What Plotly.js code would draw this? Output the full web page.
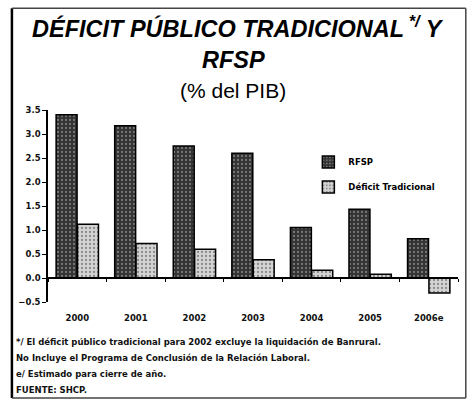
<!DOCTYPE html>
<html><head><meta charset="utf-8">
<script src="https://cdn.plot.ly/plotly-3.0.1.min.js"></script>
<style>body{margin:0;background:#fff}#chart{width:468px;height:400px}</style>
</head><body><div id="chart"></div>
<script>
const years = ["2000","2001","2002","2003","2004","2005","2006e"];
const rfsp = [3.40, 3.17, 2.75, 2.60, 1.05, 1.43, 0.82];
const deficitTrad = [1.12, 0.72, 0.60, 0.38, 0.16, 0.08, -0.31];
const yTicks = [-0.5, 0, 0.5, 1, 1.5, 2, 2.5, 3, 3.5];
const titleLines = ['<b><i>DÉFICIT PÚBLICO TRADICIONAL<sup> */</sup> Y</i></b>', '<b><i>RFSP</i></b>', '(% del PIB)'];
const notes = [
  "*/ El déficit público tradicional para 2002 excluye la liquidación de Banrural.",
  "No Incluye el Programa de Conclusión de la Relación Laboral.",
  "e/ Estimado para cierre de año.",
  "FUENTE: SHCP."
];

const traces = [
  {type:'bar', name:'RFSP', x:years, y:rfsp, legendgroup:'a',
   marker:{color:'#333333', line:{color:'#000', width:1.5},
           pattern:{shape:'.', bgcolor:'#333333', fgcolor:'#777777', size:4, solidity:0.25, fillmode:'replace'}}},
  {type:'bar', name:'Déficit Tradicional', x:years, y:deficitTrad, legendgroup:'b',
   marker:{color:'#cfcfcf', line:{color:'#000', width:1.5},
           pattern:{shape:'.', bgcolor:'#d4d4d4', fgcolor:'#8a8a8a', size:4, solidity:0.25, fillmode:'replace'}}}
];

const sans = 'DejaVu Sans, Verdana, sans-serif';
const annotations = notes.map((t,i)=>({
  text:t, xref:'paper', yref:'paper', x:-0.082, y:-0.208 - i*0.0835,
  xanchor:'left', yanchor:'middle', showarrow:false,
  font:{family:sans, size:8.5, color:'#111', weight:'bold'}
}));
const titleY = [1.432, 1.262, 1.104];
const titleX = [0.463, 0.452, 0.452];
const titleSize = [23.5, 23.5, 21];
titleLines.forEach((t,i)=>annotations.push({
  text:t, xref:'paper', yref:'paper', x:titleX[i], y:titleY[i], xanchor:'center', yanchor:'middle',
  showarrow:false, font:{family:'Liberation Sans, Arial, sans-serif', size:titleSize[i], color:'#000'}
}));

const layout = {
  width:468, height:400,
  margin:{l:48, r:10, t:110, b:98},
  paper_bgcolor:'#fff', plot_bgcolor:'#fff',
  barmode:'group', bargap:0.27, bargroupgap:0.02,
  showlegend:true,
  legend:{x:0.635, y:0.805, xanchor:'left', yanchor:'top', bgcolor:'rgba(0,0,0,0)',
          traceorder:'grouped', tracegroupgap:6, itemwidth:30,
          font:{family:sans, size:8.5, color:'#000', weight:'bold'}},
  xaxis:{type:'category', anchor:'free', position:0.125, showline:true, linecolor:'#000', linewidth:1.5,
         ticks:'outside', tickson:'boundaries', ticklen:3, tickcolor:'#000',
         showticklabels:false, showgrid:false, zeroline:false, range:[-0.5,6.5]},
  xaxis2:{overlaying:'x', anchor:'y', side:'bottom', range:[-0.5,6.5], tickmode:'array',
          tickvals:years.map((_,i)=>i), ticktext:years, showline:false, ticks:'', ticklabelstandoff:9,
          showgrid:false, zeroline:false,
          tickfont:{family:sans, size:8.5, color:'#111', weight:'bold'}},
  yaxis:{range:[-0.5,3.5], tickmode:'array', tickvals:yTicks, tickformat:'.1f',
         showline:true, linecolor:'#000', linewidth:1.5, ticks:'outside', ticklen:4, tickcolor:'#000',
         showgrid:false, zeroline:false,
         tickfont:{family:sans, size:8.5, color:'#111', weight:'bold'}},
  shapes:[
    {type:'line', xref:'paper', yref:'paper', x0:-0.088, x1:-0.088, y0:-0.5, y1:1.53, line:{color:'#000', width:2.5}},
    {type:'line', xref:'paper', yref:'paper', x0:-0.088, x1:1.019, y0:1.53, y1:1.53, line:{color:'#444', width:1.5}},
    {type:'line', xref:'paper', yref:'paper', x0:1.019, x1:1.019, y0:-0.5, y1:1.53, line:{color:'#444', width:1.5}},
    {type:'line', xref:'paper', yref:'paper', x0:-0.088, x1:1.019, y0:-0.5, y1:-0.5, line:{color:'#444', width:1.5}}
  ],
  annotations:annotations
};
traces.push({type:'scatter', x:[0], y:[null], xaxis:'x2', yaxis:'y', showlegend:false, hoverinfo:'skip', mode:'markers'});
Plotly.newPlot('chart', traces, layout, {displayModeBar:false});
</script></body></html>
